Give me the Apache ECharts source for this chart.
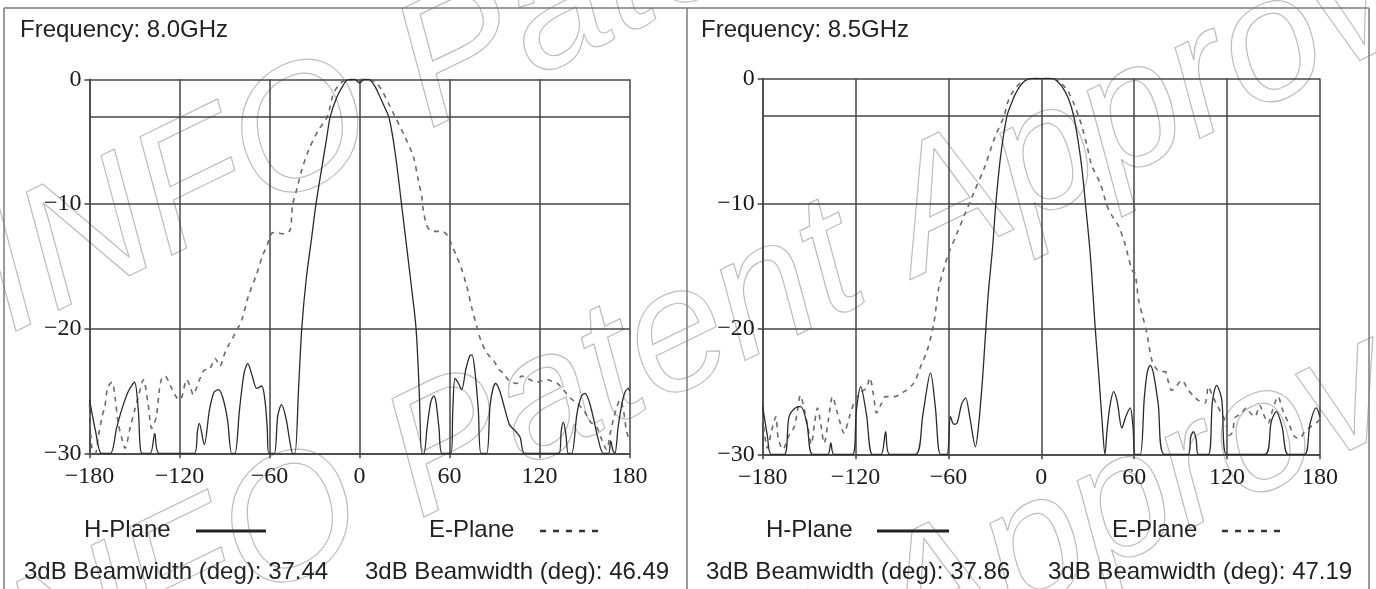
<!DOCTYPE html>
<html><head><meta charset="utf-8">
<script src="https://cdn.jsdelivr.net/npm/echarts@6/dist/echarts.min.js"></script>
<style>html,body{margin:0;padding:0;background:#fff}#c{width:1376px;height:589px}</style>
</head><body><div id="c"></div>
<script>
// ---- data (angle in degrees, normalized gain in dB) ----
const xRange = [-180, 180];
const xStep = 60;
const yRange = [-30, 0];
const yStep = 10;
const halfPowerLevel = -3;
const panelTitles = ['Frequency: 8.0GHz', 'Frequency: 8.5GHz'];
const legendNames = ['H-Plane', 'E-Plane'];
const beamwidthH = ['37.44', '37.86'];
const beamwidthE = ['46.49', '47.19'];
const watermarkText = '-INFO Patent Approved';

const h80 = [[-180,-25.7],[-176,-28.2],[-172,-30],[-166,-30],[-162,-28],[-158,-26.3],[-154,-25],[-150,-24.3],[-147.5,-26.5],[-145,-30],[-139.5,-30],[-136.5,-28.4],[-133.5,-30],[-110,-30],[-108,-28.2],[-106.8,-27.6],[-103.5,-29.3],[-100,-26.5],[-97,-25.1],[-94,-24.9],[-91,-25.6],[-88,-27.3],[-85.2,-30],[-83,-30],[-80,-26.5],[-77,-23.6],[-74.5,-22.8],[-71.5,-23.8],[-68.5,-24.8],[-65.2,-24.6],[-63,-25.8],[-61.5,-28],[-60.5,-30],[-56.8,-30],[-54.5,-27],[-52,-26.1],[-49,-27.2],[-46.5,-29],[-44.5,-30],[-43,-30],[-40.5,-24.5],[-38.5,-20],[-35.5,-16],[-32,-12.8],[-29,-10],[-25,-7],[-22,-4.8],[-19.5,-3],[-15,-1.4],[-11,-0.5],[-8,-0.05],[-3,0],[0,-0.3],[3,0],[6,0],[10,-0.5],[14,-1.5],[17,-2.3],[19.5,-3],[22,-4.5],[25,-7],[28,-10],[31,-13],[34,-16],[37.7,-20],[39.8,-25],[41.5,-30],[43,-30],[45,-28],[47.5,-25.9],[49.5,-25.4],[51,-25.9],[53,-28],[55,-30],[61,-30],[62.2,-26.5],[63.7,-24],[66,-24.4],[68.1,-24.9],[71,-23.2],[73.5,-22.2],[75,-22.1],[77,-23.5],[79.2,-26.5],[81,-30],[84.8,-30],[87,-26.2],[89,-24.8],[90.8,-24.4],[93.5,-25],[97,-26.5],[100,-27.7],[103,-28.1],[107,-28.7],[110.3,-30],[133,-30],[134.5,-28.2],[135.9,-27.5],[137.5,-28.4],[139.2,-30],[141.5,-30],[145,-26.8],[148,-25.4],[150.3,-25.2],[153,-25.8],[156,-27.2],[159,-28.8],[162.5,-30],[166,-30],[167.5,-29],[169,-29.8],[170.3,-30],[172.5,-27.8],[175,-26],[177,-25.1],[179.2,-24.8],[180,-25]];

const e80 = [[-180,-26],[-178.5,-29.5],[-176,-30],[-174.2,-28.7],[-171.5,-27],[-169.7,-26.2],[-167.8,-24.7],[-165,-24.3],[-163,-25.5],[-160.8,-27.6],[-158,-29],[-156.3,-29.6],[-153,-28],[-150,-26.6],[-147.5,-25.5],[-144.1,-24.1],[-141,-26],[-138.5,-28],[-135.5,-27.1],[-133.5,-25],[-131.9,-24],[-129.7,-23.8],[-126,-24.6],[-123,-25.3],[-120.5,-25.7],[-118.5,-25.5],[-115.2,-24.1],[-113,-24.6],[-110.8,-25.3],[-107,-24.2],[-103,-23.3],[-100.6,-23.3],[-98,-22.8],[-96.3,-22.4],[-93,-23],[-90.5,-22.2],[-88.5,-21.6],[-83,-20.4],[-78.5,-19.3],[-74.1,-17.4],[-68.5,-15.6],[-64.5,-14.1],[-61.8,-13.4],[-59.7,-12.6],[-57.7,-12.3],[-54,-12.35],[-50,-12.4],[-46.3,-12.1],[-45.2,-11],[-44.5,-10],[-42,-8.9],[-38.5,-7.3],[-34,-5.7],[-27.5,-4.1],[-21.5,-3],[-17.5,-1.2],[-14,-0.5],[-10,-0.1],[-5,0],[0,0],[5,0],[10.3,-0.2],[14.8,-0.86],[19.2,-1.9],[23.7,-3],[30.3,-4.6],[35.9,-6.2],[39.2,-8.1],[41.5,-9.4],[42.5,-10.5],[44.8,-11.7],[47,-12.1],[51.5,-12.2],[55,-12.2],[59.2,-12.6],[61.5,-13.3],[64.8,-14.2],[68,-15.2],[71.5,-16.6],[75,-18.4],[78.1,-19.8],[81,-21],[83.7,-21.7],[86.5,-22.2],[89.2,-22.5],[92.5,-23.2],[95.9,-23.6],[100,-24.2],[104.8,-24.4],[108,-23.8],[111,-23.9],[113.7,-24.1],[118,-24.3],[121,-24.2],[124.8,-24.1],[128,-24.2],[132,-24.4],[135.9,-24.9],[140,-25.5],[145,-26],[149.2,-26.5],[154,-27.5],[158.1,-27.9],[161.5,-28.9],[164.8,-29.7],[167,-28.5],[169.2,-27.3],[171.5,-26.3],[173.7,-25.7],[176,-26.6],[178,-28.2],[180,-29]];

const h85 = [[-180,-26.2],[-177,-28.5],[-174.5,-30],[-166,-30],[-163,-27],[-159,-26.3],[-155.5,-26.2],[-151.5,-27.5],[-147.8,-30],[-138,-30],[-136,-29.1],[-134,-30],[-122,-30],[-119.5,-26.5],[-116.7,-24.6],[-113,-26.8],[-109.2,-30],[-103.5,-30],[-100.6,-28.2],[-98,-30],[-81.3,-30],[-76.5,-26.8],[-71.6,-23.5],[-68.5,-26.2],[-65.2,-30],[-61,-30],[-58.7,-27],[-56.5,-27.6],[-54.4,-27.5],[-51.5,-26],[-49,-25.5],[-46,-27.2],[-42.6,-29.4],[-40.4,-27.5],[-38,-24],[-36.4,-21],[-34.3,-17.2],[-31.5,-13.5],[-29.4,-10],[-26.3,-6.2],[-22.2,-3],[-19,-1.9],[-16.6,-1.2],[-12,-0.35],[-6,0],[7,0],[10,-0.2],[13.4,-0.66],[17.5,-1.6],[20.9,-3],[24,-5.2],[26.3,-7.3],[28.5,-10],[31.7,-14.2],[34.9,-20.1],[37,-23.5],[39.2,-27.3],[41.1,-30],[42.5,-28],[44.5,-26],[46.7,-25],[49,-25.8],[52,-27.9],[54.5,-27],[57.4,-26.3],[59.2,-27.8],[60.6,-30],[63.9,-30],[66.5,-25.5],[68.5,-23.4],[70.3,-22.9],[72.5,-23.6],[75.5,-26],[79.5,-30],[95,-30],[96.5,-28.6],[98.2,-28.2],[100,-28.8],[101.4,-30],[107.9,-30],[110.5,-25.8],[113.2,-24.5],[116.5,-25.6],[119.6,-30],[144.4,-30],[148.5,-27.4],[151.8,-26.6],[155.5,-27.8],[159.4,-30],[170.1,-30],[173.5,-27.6],[177.6,-26.3],[180,-27]];

const e85 = [[-180,-27],[-177,-29.5],[-174,-28],[-171.5,-27],[-170,-28.7],[-167,-29.6],[-163,-28.5],[-159.6,-27.8],[-157.5,-26.5],[-155.7,-25.3],[-153,-26.5],[-150.6,-28],[-148.6,-29.2],[-146.5,-27.5],[-144.6,-26.3],[-142.5,-27.6],[-140.3,-29.1],[-137.5,-27.2],[-134.9,-25.4],[-131.7,-26.7],[-127.4,-28.3],[-124,-27],[-120,-25.6],[-116,-25],[-112.9,-24.7],[-110.8,-23.9],[-108.5,-25.2],[-106.4,-26.7],[-103.5,-26],[-100.6,-25.4],[-95.2,-25.4],[-88.7,-25],[-82.3,-24.3],[-78,-23],[-73.7,-21.7],[-69.4,-19.5],[-66.4,-16.8],[-63,-15.2],[-60,-14],[-54.6,-12.4],[-49.3,-10.8],[-43.9,-9.2],[-36.4,-7],[-29.9,-4.65],[-24,-3],[-22,-2],[-18,-1],[-12,-0.2],[-6,0],[8,0],[12,-0.3],[16.6,-0.9],[21,-2],[24,-3],[26.3,-3.85],[29.5,-5.4],[32.7,-7],[38.1,-8.4],[43.5,-10.5],[49.9,-11.8],[54,-13.2],[58.5,-15.3],[60.6,-15.6],[62.8,-17.7],[65.5,-19],[68.1,-20.3],[71.4,-22.5],[74.5,-23.2],[77.8,-23.4],[80,-23.4],[82,-24.2],[84.2,-24.9],[87.5,-24.5],[90.7,-24.1],[95,-24.9],[98,-25.3],[101.4,-25.7],[105.7,-25.9],[107.9,-24.6],[110.5,-25.3],[114,-26.2],[118.6,-27.3],[121.5,-28.5],[123.6,-28.2],[125,-27.1],[128.5,-26.8],[132.5,-26.3],[135,-26.7],[137.9,-27],[141.1,-26.1],[143.5,-26.8],[146.5,-27.5],[149.5,-26.4],[152.9,-25.4],[156,-26.5],[160,-27.6],[163.7,-28.6],[167,-28.7],[170,-28.2],[174,-27.8],[177.6,-27.5],[180,-27.2]];

// ---- chart ----
const gridColor = '#444';
const minus = v => String(v).replace('-', '\u2212');
const tickFont = {fontFamily: 'Liberation Serif', fontSize: 24, color: '#1a1a1a'};

function xAx(gi) {
  return {type: 'value', gridIndex: gi, min: xRange[0], max: xRange[1], interval: xStep,
    axisLine: {show: true, onZero: false, lineStyle: {color: gridColor, width: 1.5}},
    axisTick: {show: true, length: 5, lineStyle: {color: gridColor, width: 1.5}},
    axisLabel: Object.assign({margin: 11, formatter: minus}, tickFont),
    splitLine: {show: true, lineStyle: {color: gridColor, width: 1.5}}};
}
function yAx(gi) {
  return {type: 'value', gridIndex: gi, min: yRange[0], max: yRange[1], interval: yStep,
    axisLine: {show: true, onZero: false, lineStyle: {color: gridColor, width: 1.5}},
    axisTick: {show: true, length: 5, lineStyle: {color: gridColor, width: 1.5}},
    axisLabel: Object.assign({margin: 8, formatter: minus}, tickFont),
    splitLine: {show: true, lineStyle: {color: gridColor, width: 1.5}}};
}
function hSeries(gi, data) {
  return {type: 'line', xAxisIndex: gi, yAxisIndex: gi, data: data, symbol: 'none', smooth: 0.3,
    clip: true, z: 4, lineStyle: {color: '#2a2a2a', width: 1.3},
    markLine: {silent: true, symbol: 'none', label: {show: false}, animation: false,
      lineStyle: {color: gridColor, width: 1.5, type: 'solid'}, data: [{yAxis: halfPowerLevel}]}};
}
function eSeries(gi, data) {
  return {type: 'line', xAxisIndex: gi, yAxisIndex: gi, data: data, symbol: 'none', smooth: 0.3,
    clip: true, z: 3, lineStyle: {color: '#6a6a6a', width: 1.6, type: [5, 5]}};
}

const txt = (x, y, s) => ({type: 'text', x: x, y: y, z: 10, style: {text: s, fill: '#222',
  font: '24px "Liberation Sans", Arial, sans-serif', textVerticalAlign: 'middle'}});
const ln = (x1, y1, x2, y2, st) => ({type: 'line', z: 10, shape: {x1, y1, x2, y2}, style: st});
const border = {stroke: '#7a7a7a', lineWidth: 1.5};
const wm = (x, y) => ({type: 'text', x: x, y: y, z: -10, rotation: 0.454, silent: true,
  style: {text: watermarkText, fill: 'rgba(0,0,0,0)', stroke: '#bdbdbd', lineWidth: 1.2,
    font: 'italic 175px "Liberation Sans", Arial, sans-serif', textVerticalAlign: 'middle'}});

const graphics = [
  wm(-64, 316), wm(-74, 706), wm(-84, 1096),
  ln(4, 8, 1369, 8, border), ln(4, 8, 4, 589, border), ln(687, 8, 687, 589, border), ln(1369, 8, 1369, 589, border)
];
const pos = [
  {title: 20, h: 84, hl: [196, 266], e: 429, el: [540, 604], bh: 24, be: 365},
  {title: 701, h: 766, hl: [877, 949], e: 1112, el: [1222, 1287], bh: 706, be: 1048}
];
pos.forEach((p, i) => {
  graphics.push(txt(p.title, 30, panelTitles[i]));
  graphics.push(txt(p.h, 530, legendNames[0]));
  graphics.push(ln(p.hl[0], 531, p.hl[1], 531, {stroke: '#222', lineWidth: 3}));
  graphics.push(txt(p.e, 530, legendNames[1]));
  graphics.push(ln(p.el[0], 531, p.el[1], 531, {stroke: '#333', lineWidth: 2.5, lineDash: [6, 7]}));
  graphics.push(txt(p.bh, 572, '3dB Beamwidth (deg): ' + beamwidthH[i]));
  graphics.push(txt(p.be, 572, '3dB Beamwidth (deg): ' + beamwidthE[i]));
});

const chart = echarts.init(document.getElementById('c'), null, {renderer: 'canvas'});
chart.setOption({
  animation: false,
  backgroundColor: '#fff',
  grid: [
    {left: 89.5, top: 79.3, width: 540, height: 374},
    {left: 762.7, top: 78.4, width: 557.3, height: 375.9}
  ],
  xAxis: [xAx(0), xAx(1)],
  yAxis: [yAx(0), yAx(1)],
  series: [hSeries(0, h80), eSeries(0, e80), hSeries(1, h85), eSeries(1, e85)],
  graphic: graphics
});
</script></body></html>
